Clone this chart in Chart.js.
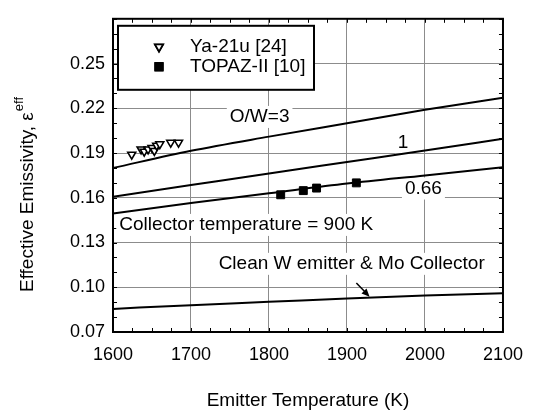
<!DOCTYPE html>
<html>
<head>
<meta charset="utf-8">
<script src="https://cdn.jsdelivr.net/npm/chart.js@4.4.0/dist/chart.umd.min.js"></script>
<style>
  html, body { margin: 0; padding: 0; background: #fff; }
  #wrap { width: 535px; height: 418px; }
</style>
</head>
<body>
<div id="wrap"><canvas id="emissivityChart" width="535" height="418"></canvas></div>
<script>
// model curves (O/W ratios + clean W)
const temperatures = [1600, 1700, 1800, 1900, 2000, 2100];
const ratio3 = [0.180, 0.1915, 0.201, 0.210, 0.219, 0.227];
const ratio1 = [0.1607, 0.1685, 0.1763, 0.184, 0.1917, 0.1995];
const ratio066 = [0.1495, 0.1565, 0.163, 0.1695, 0.175, 0.1805];
const cleanW = [0.0855, 0.0880, 0.0902, 0.0925, 0.0945, 0.0959];

// measured points
const ya21uTemps = [1624, 1636, 1640, 1645, 1650, 1653, 1656, 1660, 1674, 1684];
const ya21uValues = [0.189, 0.1925, 0.191, 0.1925, 0.1935, 0.1915, 0.195, 0.196, 0.197, 0.197];
const topazTemps = [1815, 1844, 1861, 1912];
const topazValues = [0.162, 0.1648, 0.1665, 0.170];

const xTickLabels = ['1600', '1700', '1800', '1900', '2000', '2100'];
const yTickLabels = ['0.07', '0.10', '0.13', '0.16', '0.19', '0.22', '0.25'];

const FONT = "'Liberation Sans', Arial, sans-serif";

function toPoints(xs, ys) {
    return xs.map((x, i) => ({ x: x, y: ys[i] }));
}

function curve(values) {
    return {
        data: toPoints(temperatures, values),
        showLine: true,
        borderColor: '#000',
        borderWidth: 2,
        pointRadius: 0,
        cubicInterpolationMode: 'monotone',
        fill: false
    };
}

const ya21u = {
    label: 'Ya-21u [24]',
    data: toPoints(ya21uTemps, ya21uValues),
    pointStyle: 'triangle',
    rotation: 180,
    pointRadius: 4.6,
    pointBackgroundColor: '#fff',
    pointBorderColor: '#000',
    pointBorderWidth: 1.6
};

const topaz = {
    label: 'TOPAZ-II [10]',
    data: toPoints(topazTemps, topazValues),
    pointStyle: 'rect',
    pointRadius: 5.6,
    pointBackgroundColor: '#000',
    pointBorderColor: '#000',
    pointBorderWidth: 1
};

// text notes placed in data units
const notes = [
    { text: 'O/W=3', x: 1788, y: 0.2142, align: 'center' },
    { text: '1', x: 1972, y: 0.1972, align: 'center' },
    { text: '0.66', x: 1998, y: 0.1662, align: 'center' },
    { text: 'Collector temperature = 900 K', x: 1608, y: 0.1418, align: 'left' },
    { text: 'Clean W emitter & Mo Collector', x: 1906, y: 0.1157, align: 'center' }
];

const decorPlugin = {
    id: 'decor',
    beforeDatasetsDraw(chart) {
        const ctx = chart.ctx;
        const xs = chart.scales.x;
        const ys = chart.scales.y;
        const area = chart.chartArea;

        // minor inward ticks on all four sides
        ctx.save();
        ctx.strokeStyle = '#000';
        ctx.lineWidth = 1;
        ctx.beginPath();
        for (let t = 1600; t <= 2100; t += 25) {
            const px = Math.round(xs.getPixelForValue(t)) + 0.5;
            ctx.moveTo(px, area.bottom);
            ctx.lineTo(px, area.bottom - 4);
            ctx.moveTo(px, area.top);
            ctx.lineTo(px, area.top + 4);
        }
        for (let k = 7; k <= 28; k++) {
            const py = Math.round(ys.getPixelForValue(k / 100)) + 0.5;
            ctx.moveTo(area.left, py);
            ctx.lineTo(area.left + 4, py);
            ctx.moveTo(area.right, py);
            ctx.lineTo(area.right - 4, py);
        }
        ctx.stroke();

        // notes with white boxes behind them
        ctx.font = '19px ' + FONT;
        ctx.textBaseline = 'middle';
        notes.forEach(n => {
            const px = xs.getPixelForValue(n.x);
            const py = ys.getPixelForValue(n.y);
            const w = ctx.measureText(n.text).width;
            const left = n.align === 'left' ? px : px - w / 2;
            ctx.fillStyle = '#fff';
            ctx.fillRect(left - 3, py - 11, w + 6, 22);
            ctx.fillStyle = '#000';
            ctx.textAlign = 'left';
            ctx.fillText(n.text, left, py);
        });
        ctx.restore();
    },
    afterDraw(chart) {
        const ctx = chart.ctx;
        const xs = chart.scales.x;
        const ys = chart.scales.y;
        const area = chart.chartArea;

        ctx.save();
        // frame
        ctx.strokeStyle = '#000';
        ctx.lineWidth = 2;
        ctx.strokeRect(area.left, area.top, area.right - area.left, area.bottom - area.top);

        // arrow to the clean W curve
        const x0 = xs.getPixelForValue(1912), y0 = ys.getPixelForValue(0.1028);
        const x1 = xs.getPixelForValue(1929), y1 = ys.getPixelForValue(0.0937);
        const ang = Math.atan2(y1 - y0, x1 - x0);
        ctx.lineWidth = 1.5;
        ctx.beginPath();
        ctx.moveTo(x0, y0);
        ctx.lineTo(x1 - 5 * Math.cos(ang), y1 - 5 * Math.sin(ang));
        ctx.stroke();
        ctx.fillStyle = '#000';
        ctx.beginPath();
        ctx.moveTo(x1, y1);
        ctx.lineTo(x1 - 8 * Math.cos(ang) + 3.5 * Math.sin(ang), y1 - 8 * Math.sin(ang) - 3.5 * Math.cos(ang));
        ctx.lineTo(x1 - 8 * Math.cos(ang) - 3.5 * Math.sin(ang), y1 - 8 * Math.sin(ang) + 3.5 * Math.cos(ang));
        ctx.closePath();
        ctx.fill();

        // legend box
        const lx = area.left + 5, ly = area.top + 7, lw = 196, lh = 64;
        ctx.fillStyle = '#fff';
        ctx.fillRect(lx, ly, lw, lh);
        ctx.lineWidth = 2;
        ctx.strokeRect(lx, ly, lw, lh);
        const entries = [ya21u, topaz];
        ctx.font = '19px ' + FONT;
        ctx.textBaseline = 'middle';
        ctx.textAlign = 'left';
        entries.forEach((ds, i) => {
            const my = ly + 21 + i * 20;
            Chart.helpers.drawPoint(ctx, {
                pointStyle: ds.pointStyle,
                rotation: ds.rotation || 0,
                radius: ds.pointRadius,
                borderWidth: ds.pointBorderWidth
            }, lx + 41, my);
            ctx.fillStyle = ds.pointBackgroundColor;
            ctx.strokeStyle = ds.pointBorderColor;
            ctx.lineWidth = ds.pointBorderWidth;
            ctx.beginPath();
            if (ds.pointStyle === 'rect') {
                const s = ds.pointRadius * Math.SQRT1_2;
                ctx.rect(lx + 41 - s, my - s, 2 * s, 2 * s);
            } else {
                const r = ds.pointRadius;
                ctx.moveTo(lx + 41, my + r);
                ctx.lineTo(lx + 41 - r * 0.866, my - r / 2);
                ctx.lineTo(lx + 41 + r * 0.866, my - r / 2);
                ctx.closePath();
            }
            ctx.fill();
            ctx.stroke();
            ctx.fillStyle = '#000';
            ctx.fillText(ds.label, lx + 72, my);
        });

        // axis titles
        ctx.fillStyle = '#000';
        ctx.font = '19px ' + FONT;
        ctx.textAlign = 'center';
        ctx.fillText('Emitter Temperature (K)', (area.left + area.right) / 2, 401);

        ctx.translate(28, 195);
        ctx.rotate(-Math.PI / 2);
        const main = 'Effective Emissivity, \u03b5';
        const wMain = ctx.measureText(main).width;
        ctx.font = '13px ' + FONT;
        const wSup = ctx.measureText('eff').width;
        const start = -(wMain + wSup) / 2;
        ctx.textAlign = 'left';
        ctx.font = '19px ' + FONT;
        ctx.fillText(main, start, 0);
        ctx.font = '13px ' + FONT;
        ctx.fillText('eff', start + wMain + 1, -9);
        ctx.restore();
    }
};

document.addEventListener('DOMContentLoaded', () => {
    const ctx = document.getElementById('emissivityChart').getContext('2d');
    new Chart(ctx, {
        type: 'scatter',
        data: {
            datasets: [curve(ratio3), curve(ratio1), curve(ratio066), curve(cleanW), ya21u, topaz]
        },
        options: {
            responsive: false,
            animation: false,
            layout: { padding: { top: 14, right: 26, left: 0, bottom: 0 } },
            plugins: {
                legend: { display: false },
                tooltip: { enabled: false }
            },
            scales: {
                x: {
                    type: 'linear',
                    min: 1600,
                    max: 2100,
                    afterFit: scale => { scale.height = 86; },
                    ticks: {
                        stepSize: 100,
                        padding: 12,
                        color: '#000',
                        font: { family: FONT, size: 18 },
                        callback: v => xTickLabels.includes(String(v)) ? String(v) : ''
                    },
                    grid: { color: '#8c8c8c', lineWidth: 1, drawTicks: false },
                    border: { color: '#000', width: 2 }
                },
                y: {
                    type: 'linear',
                    min: 0.07,
                    max: 0.28,
                    afterFit: scale => { scale.width = 113; },
                    ticks: {
                        stepSize: 0.03,
                        padding: 8,
                        color: '#000',
                        font: { family: FONT, size: 18 },
                        callback: v => yTickLabels.includes(v.toFixed(2)) ? v.toFixed(2) : ''
                    },
                    grid: { color: '#8c8c8c', lineWidth: 1, drawTicks: false },
                    border: { color: '#000', width: 2 }
                }
            }
        },
        plugins: [decorPlugin]
    });
});
</script>
</body>
</html>
